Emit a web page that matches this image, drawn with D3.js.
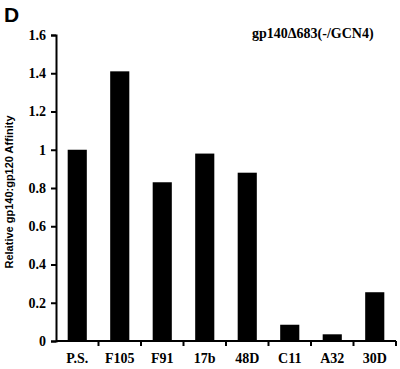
<!DOCTYPE html>
<html>
<head>
<meta charset="utf-8">
<script src="https://cdn.jsdelivr.net/npm/d3@7"></script>
<style>
  body { margin: 0; background: #fff; }
  svg text { fill: #000; }
</style>
</head>
<body>
<div id="chart"></div>
<script>
// Data
const antibodies = ["P.S.", "F105", "F91", "17b", "48D", "C11", "A32", "30D"];
const affinity = [1.0, 1.41, 0.83, 0.98, 0.88, 0.085, 0.035, 0.255];
const yTicks = [0, 0.2, 0.4, 0.6, 0.8, 1, 1.2, 1.4, 1.6];

const W = 400, H = 369;
const margin = { top: 35, right: 4, bottom: 28, left: 56 };
const innerW = W - margin.left - margin.right;
const innerH = H - margin.top - margin.bottom;

const svg = d3.select("#chart").append("svg")
    .attr("width", W)
    .attr("height", H);

const g = svg.append("g")
    .attr("transform", `translate(${margin.left},${margin.top})`);

const x = d3.scaleBand()
    .domain(antibodies)
    .range([0, innerW])
    .paddingInner(0.55)
    .paddingOuter(0.275);

const y = d3.scaleLinear()
    .domain([0, 1.6])
    .range([innerH, 0]);

// bars
g.selectAll("rect.bar")
    .data(antibodies)
    .join("rect")
    .attr("class", "bar")
    .attr("x", d => x(d))
    .attr("width", x.bandwidth())
    .attr("y", (d, i) => y(affinity[i]))
    .attr("height", (d, i) => innerH - y(affinity[i]))
    .attr("fill", "#000");

// y axis
const yAxis = g.append("g")
    .call(d3.axisLeft(y).tickValues(yTicks).tickSize(5).tickPadding(5)
        .tickFormat(d => d === 0 || d === 1 ? d3.format("d")(d) : d3.format(".1f")(d)));
yAxis.select(".domain").attr("stroke", "#000").attr("stroke-width", 2);
yAxis.selectAll(".tick line").attr("stroke", "#000").attr("stroke-width", 2);
yAxis.selectAll("text")
    .attr("font-family", "Liberation Serif, Times New Roman, serif")
    .attr("font-weight", "bold")
    .attr("font-size", 14);

// x axis with ticks at category boundaries
const step = x.step();
const bounds = d3.range(antibodies.length + 1).map(i => i * step);
const xAxisG = g.append("g").attr("transform", `translate(0,${innerH})`);
xAxisG.append("line")
    .attr("x1", 0).attr("x2", innerW)
    .attr("stroke", "#000").attr("stroke-width", 2);
xAxisG.selectAll("line.tick")
    .data(bounds.slice(1))
    .join("line")
    .attr("class", "tick")
    .attr("x1", d => d).attr("x2", d => d)
    .attr("y1", 0).attr("y2", 5)
    .attr("stroke", "#000").attr("stroke-width", 2);
xAxisG.selectAll("text")
    .data(antibodies)
    .join("text")
    .attr("x", d => x(d) + x.bandwidth() / 2)
    .attr("y", 22)
    .attr("text-anchor", "middle")
    .attr("font-family", "Liberation Serif, Times New Roman, serif")
    .attr("font-weight", "bold")
    .attr("font-size", 14)
    .text(d => d);

// y axis label
svg.append("text")
    .attr("transform", `translate(13,${margin.top + innerH / 2 + 4}) rotate(-90)`)
    .attr("text-anchor", "middle")
    .attr("font-family", "Liberation Sans, Arial, sans-serif")
    .attr("font-weight", "bold")
    .attr("font-size", 11)
    .text("Relative gp140:gp120 Affinity");

// panel letter
svg.append("text")
    .attr("x", 4).attr("y", 22)
    .attr("font-family", "Liberation Sans, Arial, sans-serif")
    .attr("font-weight", "bold")
    .attr("font-size", 21)
    .text("D");

// construct title
svg.append("text")
    .attr("x", 252).attr("y", 38)
    .attr("font-family", "Liberation Serif, Times New Roman, serif")
    .attr("font-weight", "bold")
    .attr("font-size", 14)
    .text("gp140\u0394683(-/GCN4)");
</script>
</body>
</html>
